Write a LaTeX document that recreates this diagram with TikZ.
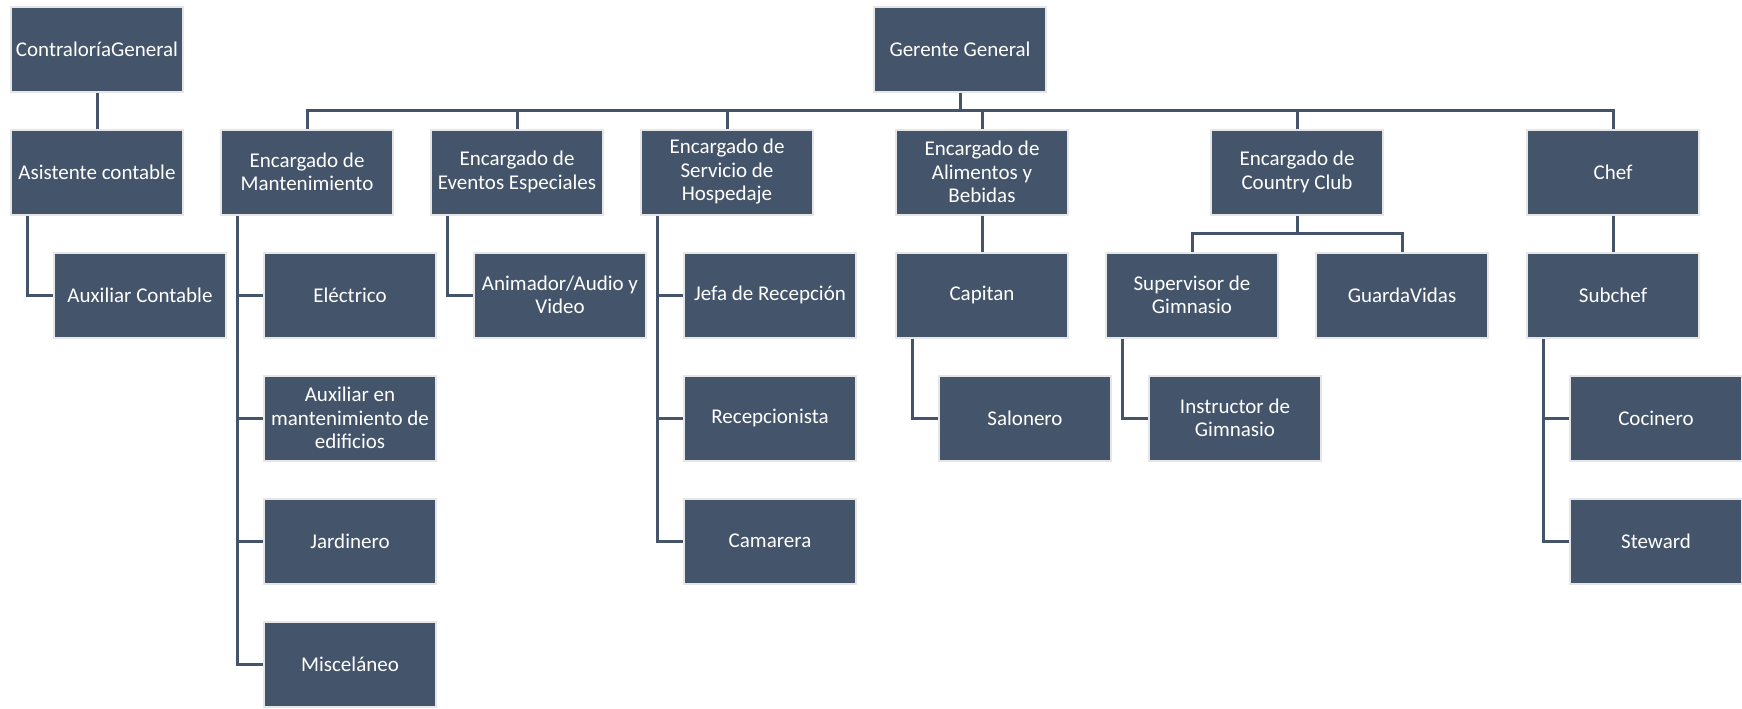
\documentclass[tikz,border=0pt]{standalone}
\usepackage{fontspec}
\setmainfont{Carlito}
\definecolor{boxblue}{HTML}{44546A}
\definecolor{boxrim}{HTML}{E6E6E6}
\tikzset{
  orgbox/.style={rectangle, draw=boxrim, line width=1pt, fill=boxblue, text=white,
    minimum width=86pt, minimum height=42.5pt, inner sep=0pt, align=center,
    font=\fontsize{10.5}{11.75}\selectfont},
  orgline/.style={draw=boxblue, line width=1.5pt}
}
\begin{document}
\begin{tikzpicture}[x=0.5pt, y=-0.5pt]
  \useasboundingbox[fill=white] (0,0) rectangle (1742,708);

  % === Contraloria ===
  \node[orgbox] (con) at (97,49) {ContraloríaGeneral};
  \node[orgbox] (ast) at (97,172) {Asistente contable};
  \node[orgbox] (auxc) at (140,295) {Auxiliar Contable};

  % === Gerencia ===
  \node[orgbox] (ger) at (960,49) {Gerente General};

  % Encargados
  \node[orgbox] (mant) at (307,172) {Encargado de\\Mantenimiento};
  \node[orgbox] (eve) at (517,172) {Encargado de\\Eventos Especiales};
  \node[orgbox] (hos) at (727,172) {Encargado de\\Servicio de\\Hospedaje};
  \node[orgbox] (ali) at (982,172) {Encargado de\\Alimentos y\\Bebidas};
  \node[orgbox] (cou) at (1297,172) {Encargado de\\Country Club};
  \node[orgbox] (chef) at (1613,172) {Chef};

  % Mantenimiento
  \node[orgbox] (elec) at (350,295) {Eléctrico};
  \node[orgbox] (auxm) at (350,418) {Auxiliar en\\mantenimiento de\\edificios};
  \node[orgbox] (jard) at (350,541) {Jardinero};
  \node[orgbox] (misc) at (350,664) {Misceláneo};

  % Eventos
  \node[orgbox] (anim) at (560,295) {Animador/Audio y\\Video};

  % Hospedaje
  \node[orgbox] (jefa) at (770,295) {Jefa de Recepción};
  \node[orgbox] (rec) at (770,418) {Recepcionista};
  \node[orgbox] (cam) at (770,541) {Camarera};

  % Alimentos y Bebidas
  \node[orgbox] (cap) at (982,295) {Capitan};
  \node[orgbox] (sal) at (1025,418) {Salonero};

  % Country Club
  \node[orgbox] (sup) at (1192,295) {Supervisor de\\Gimnasio};
  \node[orgbox] (gua) at (1402,295) {GuardaVidas};
  \node[orgbox] (ins) at (1235,418) {Instructor de\\Gimnasio};

  % Chef
  \node[orgbox] (sub) at (1613,295) {Subchef};
  \node[orgbox] (coc) at (1656,418) {Cocinero};
  \node[orgbox] (stw) at (1656,541) {Steward};

  % Connections
  \draw[orgline] (con) -- (ast);
  \draw[orgline] ([xshift=8.5pt]ast.south west) |- (auxc.west);

  \coordinate (bus) at (960,110);
  \draw[orgline] (ger) -- (bus);
  \draw[orgline] (mant.north) |- (bus) -| (chef.north);
  \foreach \n in {eve,hos,ali,cou}
    \draw[orgline] (\n.north) -- (\n.north |- bus);

  \draw[orgline] ([xshift=8.5pt]mant.south west) |- (misc.west);
  \foreach \n in {elec,auxm,jard}
    \draw[orgline] (\n.west) -- ++(-26,0);

  \draw[orgline] ([xshift=8.5pt]eve.south west) |- (anim.west);

  \draw[orgline] ([xshift=8.5pt]hos.south west) |- (cam.west);
  \foreach \n in {jefa,rec}
    \draw[orgline] (\n.west) -- ++(-26,0);

  \draw[orgline] (ali) -- (cap);
  \draw[orgline] ([xshift=8.5pt]cap.south west) |- (sal.west);

  \coordinate (ccbus) at (1297,233);
  \draw[orgline] (cou) -- (ccbus);
  \draw[orgline] (sup.north) |- (ccbus) -| (gua.north);
  \draw[orgline] ([xshift=8.5pt]sup.south west) |- (ins.west);

  \draw[orgline] (chef) -- (sub);
  \draw[orgline] ([xshift=8.5pt]sub.south west) |- (stw.west);
  \draw[orgline] (coc.west) -- ++(-26,0);

\end{tikzpicture}
\end{document}
